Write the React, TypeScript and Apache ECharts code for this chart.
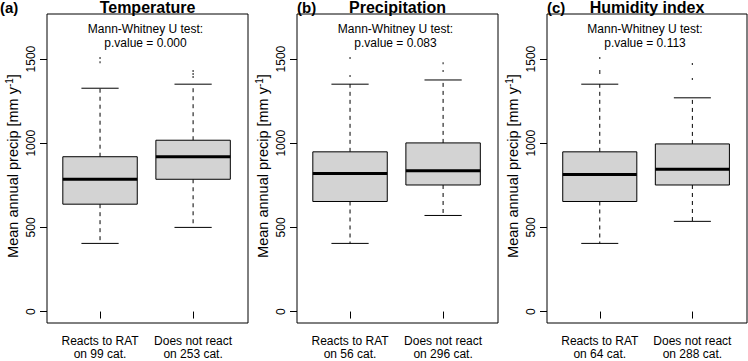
import React, { useEffect, useRef } from "react";
import * as echarts from "echarts";

// ---- data ----
const panelLetters = ["(a)", "(b)", "(c)"];
const panelTitles = ["Temperature", "Precipitation", "Humidity index"];
const pValues = ["0.000", "0.083", "0.113"];
const groupNames = ["Reacts to RAT", "Does not react"];
const catCounts = [
  [99, 253],
  [56, 296],
  [64, 288],
];
const yTicks = [0, 500, 1000, 1500];

// [lower whisker, Q1, median, Q3, upper whisker]
const tempReact = [405, 638, 786, 920, 1327];
const tempNoReact = [500, 786, 920, 1018, 1351];
const precReact = [405, 654, 821, 949, 1351];
const precNoReact = [571, 752, 837, 1002, 1376];
const humReact = [405, 654, 815, 949, 1351];
const humNoReact = [536, 752, 845, 996, 1270];

const tempReactOut = [1506, 1482];
const tempNoReactOut = [1429, 1412, 1394];
const precReactOut = [1506, 1400];
const precNoReactOut = [1476, 1429];
const humReactOut = [1506, 1429, 1418];
const humNoReactOut = [1471, 1382];

const boxes = [
  [tempReact, tempNoReact],
  [precReact, precNoReact],
  [humReact, humNoReact],
];
const outliers = [
  [tempReactOut, tempNoReactOut],
  [precReactOut, precNoReactOut],
  [humReactOut, humNoReactOut],
];

const FONT = "'Liberation Sans', Arial, sans-serif";

export default function App() {
  const ref = useRef<HTMLDivElement>(null);
  useEffect(() => {
    if (!ref.current) return;
    const chart = echarts.init(ref.current, null, { renderer: "svg" });

    const panelLeft = [47, 297, 547];
    const panelWidth = [201, 201, 200];
    const top = 14;
    const height = 312;

    const grids = panelLeft.map((l, i) => ({
      left: l,
      top,
      width: panelWidth[i],
      height,
      show: true,
      borderColor: "#000",
      borderWidth: 1,
      backgroundColor: "transparent",
    }));

    const xAxes = panelLeft.map((_, i) => ({
      type: "value",
      gridIndex: i,
      min: 0.43,
      max: 2.59,
      splitLine: { show: false },
      axisLine: { show: false },
      axisTick: {
        show: true,
        customValues: [1, 2],
        length: 7,
        lineStyle: { color: "#000", width: 1 },
      },
      axisLabel: {
        customValues: [1, 2],
        formatter: (v: number) => {
          const k = Math.round(v) - 1;
          return groupNames[k] + "\non " + catCounts[i][k] + " cat.";
        },
        fontSize: 12,
        lineHeight: 13.5,
        color: "#000",
        fontFamily: FONT,
        margin: 11,
      },
    }));

    const yAxes = panelLeft.map((_, i) => ({
      type: "value",
      gridIndex: i,
      min: -68,
      max: 1768,
      splitLine: { show: false },
      axisLine: { show: false },
      axisTick: {
        show: true,
        customValues: yTicks,
        length: 7,
        lineStyle: { color: "#000", width: 1 },
      },
      axisLabel: {
        customValues: yTicks,
        formatter: (v: number) => String(v),
        rotate: 90,
        fontSize: 12,
        color: "#000",
        fontFamily: FONT,
        margin: 10,
      },
    }));

    const series: any[] = [];
    boxes.forEach((pair, i) => {
      series.push({
        type: "custom",
        xAxisIndex: i,
        yAxisIndex: i,
        data: pair.map((b, k) => [k + 1, ...b]),
        encode: { x: 0, y: [1, 2, 3, 4, 5] },
        renderItem: (params: any, api: any) => {
          const x = api.value(0);
          const lo = api.coord([x, api.value(1)]);
          const q1 = api.coord([x, api.value(2)]);
          const med = api.coord([x, api.value(3)]);
          const q3 = api.coord([x, api.value(4)]);
          const hi = api.coord([x, api.value(5)]);
          const half = api.size([0.8, 0])[0] / 2;
          const capHalf = half / 2;
          const cx = lo[0];
          const dashed = { stroke: "#000", lineWidth: 1, lineDash: [4, 4] };
          const solid = { stroke: "#000", lineWidth: 1 };
          return {
            type: "group",
            children: [
              { type: "line", shape: { x1: cx, y1: q3[1], x2: cx, y2: hi[1] }, style: dashed },
              { type: "line", shape: { x1: cx, y1: q1[1], x2: cx, y2: lo[1] }, style: dashed },
              { type: "line", shape: { x1: cx - capHalf, y1: hi[1], x2: cx + capHalf, y2: hi[1] }, style: solid },
              { type: "line", shape: { x1: cx - capHalf, y1: lo[1], x2: cx + capHalf, y2: lo[1] }, style: solid },
              {
                type: "rect",
                shape: { x: cx - half, y: q3[1], width: half * 2, height: q1[1] - q3[1] },
                style: { fill: "#d3d3d3", stroke: "#000", lineWidth: 1 },
              },
              { type: "line", shape: { x1: cx - half, y1: med[1], x2: cx + half, y2: med[1] }, style: { stroke: "#000", lineWidth: 3 } },
            ],
          };
        },
      });
      const pts: number[][] = [];
      outliers[i].forEach((arr, k) => arr.forEach((v) => pts.push([k + 1, v])));
      series.push({
        type: "scatter",
        xAxisIndex: i,
        yAxisIndex: i,
        data: pts,
        symbol: "rect",
        symbolSize: [1.2, 2],
        itemStyle: { color: "#000" },
      });
    });

    const graphic: any[] = [];
    panelLeft.forEach((l, i) => {
      const cx = l + panelWidth[i] / 2;
      graphic.push({
        type: "text",
        x: cx,
        y: 7,
        style: {
          text: panelTitles[i],
          font: `bold 16px ${FONT}`,
          fill: "#000",
          textAlign: "center",
          textVerticalAlign: "middle",
        },
      });
      graphic.push({
        type: "text",
        x: 250 * i + (i === 0 ? 0 : 47),
        y: 7,
        style: {
          text: panelLetters[i],
          font: `bold 15px ${FONT}`,
          fill: "#000",
          textAlign: "left",
          textVerticalAlign: "middle",
        },
      });
      graphic.push({
        type: "text",
        x: cx - 2,
        y: 29,
        style: {
          text: "Mann-Whitney U test:",
          font: `12px ${FONT}`,
          fill: "#000",
          textAlign: "center",
          textVerticalAlign: "middle",
        },
      });
      graphic.push({
        type: "text",
        x: cx - 2,
        y: 43,
        style: {
          text: "p.value = " + pValues[i],
          font: `12px ${FONT}`,
          fill: "#000",
          textAlign: "center",
          textVerticalAlign: "middle",
        },
      });
      graphic.push({
        type: "text",
        x: 250 * i + 12.5,
        y: 166,
        rotation: Math.PI / 2,
        style: {
          text: "Mean annual precip [mm y{sup|-1}]",
          fontSize: 14.5,
          fontFamily: FONT,
          fill: "#000",
          textAlign: "center",
          textVerticalAlign: "middle",
          lineHeight: 16,
          rich: {
            sup: { fontSize: 10, fontFamily: FONT, fill: "#000", verticalAlign: "top", lineHeight: 16 },
          },
        },
      });
    });

    chart.setOption({
      animation: false,
      backgroundColor: "#fff",
      grid: grids,
      xAxis: xAxes,
      yAxis: yAxes,
      series,
      graphic,
    });
    return () => chart.dispose();
  }, []);
  return (
    <div
      ref={ref}
      style={{ position: "fixed", left: 0, top: 0, width: 748, height: 361 }}
    />
  );
}
